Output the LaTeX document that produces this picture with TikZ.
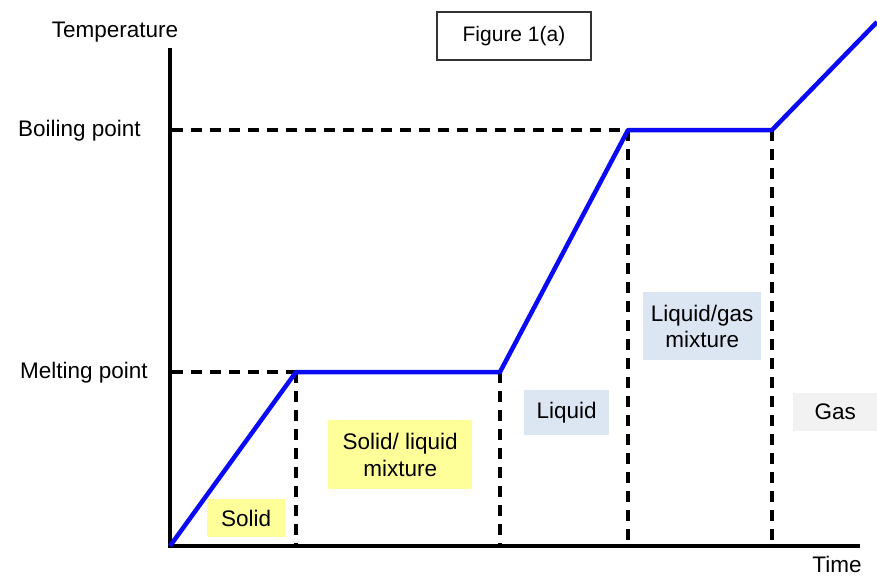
\documentclass[tikz,border=0pt]{standalone}
\usepackage{fontspec}
\setmainfont{Liberation Sans}
\definecolor{solidfill}{HTML}{FFFF99}
\definecolor{liquidfill}{HTML}{DCE6F2}
\definecolor{gasfill}{HTML}{F2F2F2}
\definecolor{curveblue}{HTML}{0A0AF5}
\begin{document}
\begin{tikzpicture}[x=1pt,y=-1pt,
  lbl/.style={font=\fontsize{22.5}{25}\selectfont, inner sep=0pt},
  phase/.style={lbl, align=center, anchor=north west},
  guide/.style={line width=3.2pt, dash pattern=on 11pt off 8pt},
  axis/.style={line width=4.5pt},
  curve/.style={line width=4.5pt, curveblue, line join=round}]
\useasboundingbox (0,0) rectangle (877,576);

% axes
\coordinate (o) at (170,546);
\coordinate (ytop) at (170,48);
\coordinate (xend) at (860,546);
\draw[axis] (ytop) -- (o) -- (xend);

% key points of the heating curve
\coordinate (m1) at (296,372);
\coordinate (m2) at (500,372);
\coordinate (b1) at (628,130);
\coordinate (b2) at (772,130);
\coordinate (g) at (877,22);
\coordinate (mAx) at (172,372);
\coordinate (bAx) at (172,130);
\coordinate (m1b) at (296,546);
\coordinate (m2b) at (500,546);
\coordinate (b1b) at (628,546);
\coordinate (b2b) at (772,546);

% guide lines
\draw[guide] (mAx) -- (m1);
\draw[guide] (bAx) -- (b1);
\draw[guide] (m1) -- (m1b);
\draw[guide] (m2) -- (m2b);
\draw[guide] (b1) -- (b1b);
\draw[guide] (b2) -- (b2b);

% heating curve
\draw[curve] (o) -- (m1) -- (m2) -- (b1) -- (b2) -- (g);

% axis labels
\node[lbl] (temp) at (115,32) {Temperature};
\node[lbl, anchor=west] (bp) at (18,131) {Boiling point};
\node[lbl, anchor=west] (mp) at (20,373) {Melting point};
\node[lbl, anchor=base] (time) at (837,572) {Time};

% title box
\node[lbl, draw=black!80, line width=1.4pt, minimum width=154pt, minimum height=48pt,
      font=\fontsize{21}{24}\selectfont] (fig) at (514,36) {Figure 1(a)};

% phase labels
\node[phase, fill=solidfill, minimum width=78pt, minimum height=38pt] (solid) at (207,499) {};
\node[lbl] at (solid.center) {Solid};
\node[phase, fill=solidfill, minimum width=144pt, minimum height=69pt] (slm) at (328,420) {};
\node[lbl, align=center] at (slm.center) {Solid/ liquid\\[2pt]mixture};
\node[phase, fill=liquidfill, minimum width=85pt, minimum height=45pt] (liq) at (524,390) {};
\node[lbl] at (liq.center) {Liquid};
\node[phase, fill=liquidfill, minimum width=118pt, minimum height=68pt] (lgm) at (643,292) {};
\node[lbl, align=center] at (lgm.center) {Liquid/gas\\[1pt]mixture};
\node[phase, fill=gasfill, minimum width=84pt, minimum height=38pt] (gas) at (793,393) {};
\node[lbl] at (gas.center) {Gas};
\end{tikzpicture}
\end{document}
